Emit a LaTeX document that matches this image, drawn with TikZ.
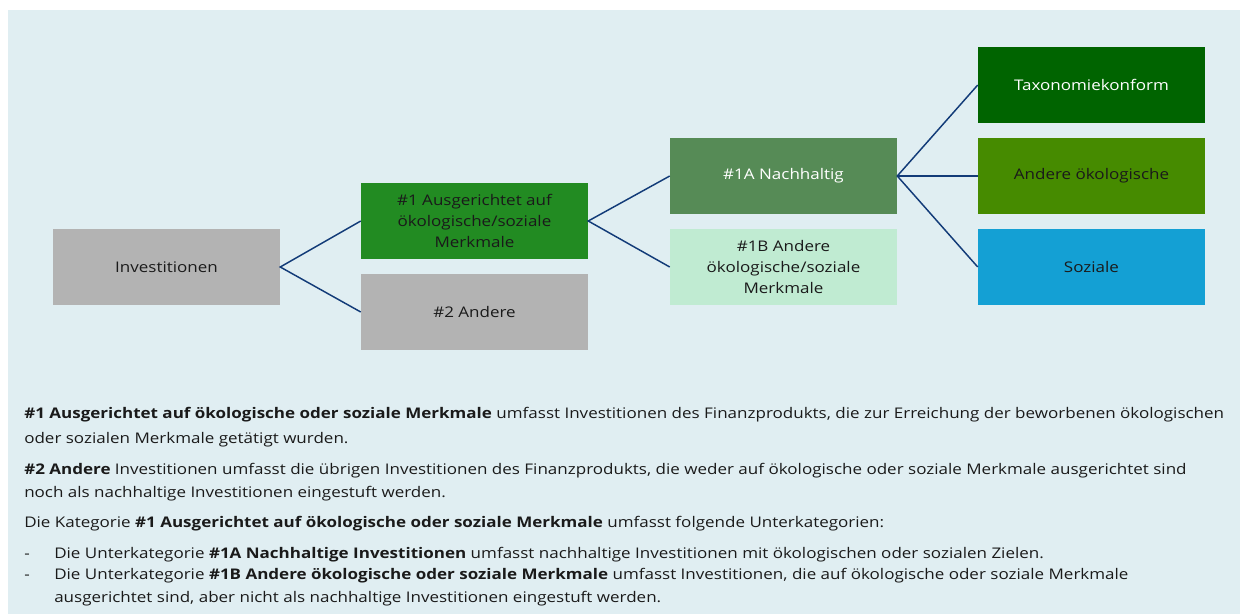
\documentclass[tikz,border=0pt]{standalone}
\usepackage{fontspec}
\setmainfont{Open Sans}[FakeStretch=1.16]
\definecolor{bgblue}{HTML}{E0EEF2}
\definecolor{boxgray}{HTML}{B3B3B3}
\definecolor{grA}{HTML}{228B22}
\definecolor{grN}{HTML}{568B56}
\definecolor{grB}{HTML}{C0EBD2}
\definecolor{grT}{HTML}{006400}
\definecolor{grO}{HTML}{468B00}
\definecolor{soz}{HTML}{14A0D4}
\definecolor{linkblue}{HTML}{123B78}
\definecolor{txtc}{HTML}{1A1A1A}
\begin{document}
\begin{tikzpicture}[x=0.75pt,y=-0.75pt,
  box/.style={rectangle, minimum width=170.25pt, minimum height=57pt, inner sep=0pt, align=center, text=txtc, font=\fontsize{11}{15.75}\selectfont},
  conn/.style={draw=linkblue, line width=1.1pt},
  txt/.style={anchor=base west, inner sep=0pt, text=txtc, font=\fontsize{11}{12}\selectfont}]
\useasboundingbox (0,0) rectangle (1240,614);
\fill[bgblue] (8,10) rectangle (1240,614);
% boxes
\node[box, fill=boxgray] (inv) at (166.5,267) {Investitionen};
\node[box, fill=grA] (a1) at (474.5,221) {\#1 Ausgerichtet auf\\ökologische/soziale\\Merkmale};
\node[box, fill=boxgray] (a2) at (474.5,312) {\#2 Andere};
\node[box, fill=grN, text=white] (n1a) at (783.5,176) {\#1A Nachhaltig};
\node[box, fill=grB] (n1b) at (783.5,267) {\#1B Andere\\ökologische/soziale\\Merkmale};
\node[box, fill=grT, text=white] (tax) at (1091.5,85) {Taxonomiekonform};
\node[box, fill=grO] (ando) at (1091.5,176) {Andere ökologische};
\node[box, fill=soz] (sozn) at (1091.5,267) {Soziale};
% connectors
\draw[conn] (a1.west) -- (inv.east) -- (a2.west);
\draw[conn] (n1a.west) -- (a1.east) -- (n1b.west);
\draw[conn] (tax.west) -- (n1a.east) -- (sozn.west);
\draw[conn] (n1a.east) -- (ando.west);
% text
\node[txt] (l1) at (24,418) {\textbf{\#1 Ausgerichtet auf ökologische oder soziale Merkmale} umfasst Investitionen des Finanzprodukts, die zur Erreichung der beworbenen ökologischen};
\node[txt] (l2) at (24,443) {oder sozialen Merkmale getätigt wurden.};
\node[txt] (l3) at (24,474) {\textbf{\#2 Andere} Investitionen umfasst die übrigen Investitionen des Finanzprodukts, die weder auf ökologische oder soziale Merkmale ausgerichtet sind};
\node[txt] (l4) at (24,497) {noch als nachhaltige Investitionen eingestuft werden.};
\node[txt] (l5) at (24,527) {Die Kategorie \textbf{\#1 Ausgerichtet auf ökologische oder soziale Merkmale} umfasst folgende Unterkategorien:};
\node[txt] (d1) at (24,558) {-};
\node[txt] (l6) at (54,558) {Die Unterkategorie \textbf{\#1A Nachhaltige Investitionen} umfasst nachhaltige Investitionen mit ökologischen oder sozialen Zielen.};
\node[txt] (d2) at (24,579) {-};
\node[txt] (l7) at (54,579) {Die Unterkategorie \textbf{\#1B Andere ökologische oder soziale Merkmale} umfasst Investitionen, die auf ökologische oder soziale Merkmale};
\node[txt] (l8) at (54,602) {ausgerichtet sind, aber nicht als nachhaltige Investitionen eingestuft werden.};
\end{tikzpicture}
\end{document}
